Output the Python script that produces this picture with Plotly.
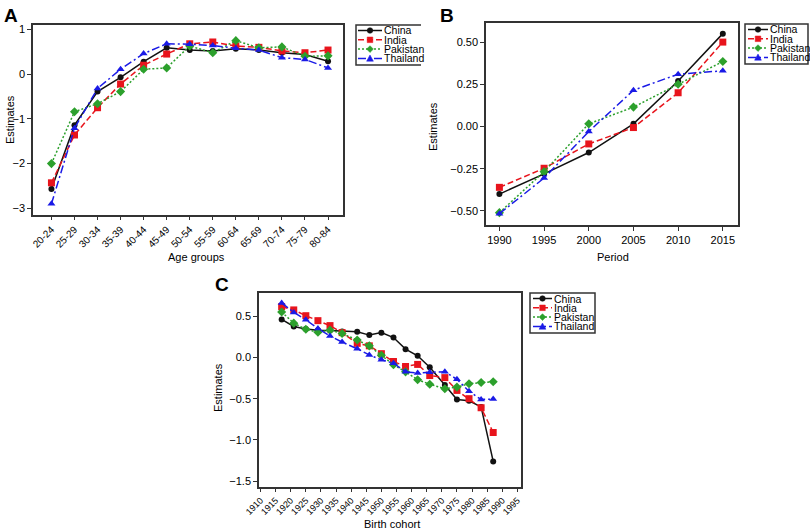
import plotly.graph_objects as go

# panel A - age effects
age_groups = ["20-24", "25-29", "30-34", "35-39", "40-44", "45-49", "50-54",
              "55-59", "60-64", "65-69", "70-74", "75-79", "80-84"]
age_china = [-2.57, -1.14, -0.39, -0.07, 0.28, 0.59, 0.54, 0.52, 0.57, 0.54, 0.48, 0.44, 0.29]
age_india = [-2.43, -1.36, -0.75, -0.22, 0.20, 0.45, 0.68, 0.72, 0.63, 0.60, 0.52, 0.48, 0.54]
age_pakistan = [-2.00, -0.84, -0.66, -0.39, 0.11, 0.14, 0.63, 0.48, 0.75, 0.59, 0.61, 0.40, 0.41]
age_thailand = [-2.90, -1.21, -0.32, 0.11, 0.46, 0.68, 0.67, 0.64, 0.58, 0.54, 0.37, 0.33, 0.14]

# panel B - period effects
periods = [1990, 1995, 2000, 2005, 2010, 2015]
per_china = [-0.40, -0.28, -0.154, 0.016, 0.27, 0.55]
per_india = [-0.36, -0.247, -0.103, -0.006, 0.20, 0.50]
per_pakistan = [-0.51, -0.267, 0.016, 0.115, 0.25, 0.385]
per_thailand = [-0.516, -0.305, -0.03, 0.215, 0.31, 0.33]

# panel C - cohort effects
cohorts = [1917, 1921, 1925, 1929, 1933, 1937, 1942, 1946, 1950,
           1954, 1958, 1962, 1966, 1971, 1975, 1979, 1983, 1987]
coh_china = [0.46, 0.375, 0.345, 0.33, 0.325, 0.315, 0.31, 0.27, 0.30,
             0.24, 0.10, 0.02, -0.12, -0.335, -0.51, -0.525, -0.60, -1.26]
coh_india = [0.615, 0.575, 0.505, 0.445, 0.385, 0.30, 0.17, 0.14, 0.045,
             -0.05, -0.11, -0.085, -0.22, -0.245, -0.40, -0.50, -0.61, -0.91]
coh_pakistan = [0.55, 0.415, 0.34, 0.305, 0.33, 0.29, 0.21, 0.14, 0.025,
                -0.09, -0.175, -0.27, -0.325, -0.38, -0.36, -0.32, -0.305, -0.295]
coh_thailand = [0.66, 0.545, 0.455, 0.35, 0.26, 0.185, 0.105, 0.03, -0.03,
                -0.07, -0.175, -0.19, -0.18, -0.175, -0.265, -0.41, -0.51, -0.505]

countries = ["China", "India", "Pakistan", "Thailand"]
colors = ["#111111", "#e8141c", "#2ca02c", "#1a1ae6"]
symbols = ["circle", "square", "diamond", "triangle-up"]
dashes = ["solid", "6px,3px", "2px,2px", "8px,3px,2px,3px"]
sizes = [6, 7, 7, 7]

panels = [
    (age_groups, [age_china, age_india, age_pakistan, age_thailand], "x", "y"),
    (periods, [per_china, per_india, per_pakistan, per_thailand], "x2", "y2"),
    (cohorts, [coh_china, coh_india, coh_pakistan, coh_thailand], "x3", "y3"),
]

fig = go.Figure()
for xs, series, xa, ya in panels:
    for i, name in enumerate(countries):
        fig.add_trace(go.Scatter(
            x=xs, y=series[i], name=name, mode="lines+markers",
            xaxis=xa, yaxis=ya, showlegend=False,
            line=dict(color=colors[i], width=1.5, dash=dashes[i]),
            marker=dict(symbol=symbols[i], size=sizes[i], color=colors[i]),
        ))

W, H = 810, 532
def px(v): return v / W
def py(v): return 1 - v / H

axis_common = dict(showline=True, linecolor="#333333", linewidth=1.5, mirror=True,
                   ticks="outside", ticklen=4, tickcolor="#333333", showgrid=False,
                   zeroline=False, automargin=False, tickfont=dict(size=11, color="black"))

fig.update_layout(
    template="none",
    width=W, height=H, margin=dict(l=0, r=0, t=0, b=0),
    paper_bgcolor="white", plot_bgcolor="white", showlegend=False,
    font=dict(family="Liberation Sans, Arial, sans-serif", color="black"),
    xaxis=dict(axis_common, domain=[px(33), px(343)], anchor="y", type="category",
               range=[-0.8, 12.65], tickangle=-45, tickfont=dict(size=10, color="black"),
               ticklen=3),
    yaxis=dict(axis_common, domain=[py(215), py(25)], anchor="x", range=[-3.15, 1.1],
               tickvals=[-3, -2, -1, 0, 1]),
    xaxis2=dict(axis_common, domain=[px(486), px(738)], anchor="y2", range=[1988.5, 2016.7],
                tickvals=periods),
    yaxis2=dict(axis_common, domain=[py(225), py(23)], anchor="x2", range=[-0.583, 0.613],
                tickvals=[-0.5, -0.25, 0, 0.25, 0.5], tickformat=".2f"),
    xaxis3=dict(axis_common, domain=[px(259), px(521)], anchor="y3", range=[1909.5, 1996.2],
                tick0=1910, dtick=5, tickangle=-45, tickfont=dict(size=9, color="black"),
                ticklen=3),
    yaxis3=dict(axis_common, domain=[py(487), py(293)], anchor="x3", range=[-1.57, 0.78],
                tickvals=[-1.5, -1.0, -0.5, 0, 0.5], tickformat=".1f"),
)

# axis titles
titles = [("Estimates", 10, 120, -90), ("Age groups", 196, 257, 0),
          ("Estimates", 433, 127, -90), ("Period", 613, 257, 0),
          ("Estimates", 218, 388, -90), ("Birth cohort", 392, 524, 0)]
for text, x, y, ang in titles:
    fig.add_annotation(text=text, xref="paper", yref="paper", x=px(x), y=py(y),
                       xanchor="center", yanchor="middle", textangle=ang,
                       showarrow=False, font=dict(size=11, color="black"))

# panel letters
for label, x, y in [("A", 2, 3), ("B", 438, 3), ("C", 213, 272)]:
    fig.add_annotation(text="<b>%s</b>" % label, xref="paper", yref="paper",
                       x=px(x), y=py(y), xanchor="left", yanchor="top",
                       showarrow=False, font=dict(size=19, color="black"))


# compact boxed legends like the original figure
def marker_shape(sym, cx, cy, color, r=2.8):
    base = dict(xref="paper", yref="paper", fillcolor=color, line=dict(color=color, width=0.5))
    if sym == "circle":
        fig.add_shape(type="circle", x0=px(cx - r), x1=px(cx + r), y0=py(cy + r), y1=py(cy - r), **base)
    elif sym == "square":
        fig.add_shape(type="rect", x0=px(cx - r), x1=px(cx + r), y0=py(cy + r), y1=py(cy - r), **base)
    else:
        if sym == "diamond":
            pts = [(cx, cy - r - 0.6), (cx + r + 0.6, cy), (cx, cy + r + 0.6), (cx - r - 0.6, cy)]
        else:
            pts = [(cx, cy - r - 0.6), (cx + r + 0.6, cy + r), (cx - r - 0.6, cy + r)]
        path = "M " + " L ".join("%.5f,%.5f" % (px(a), py(b)) for a, b in pts) + " Z"
        fig.add_shape(type="path", path=path, **base)


def add_legend(x0, x1, y0, y1, sx0, sx1, tx, rows, open_right=False):
    if open_right:
        path = "M %.5f,%.5f L %.5f,%.5f L %.5f,%.5f L %.5f,%.5f" % (
            px(x1), py(y0), px(x0), py(y0), px(x0), py(y1), px(x1), py(y1))
        fig.add_shape(type="path", path=path, xref="paper", yref="paper",
                      fillcolor="white", line=dict(color="#333333", width=1.5))
    else:
        fig.add_shape(type="rect", xref="paper", yref="paper", x0=px(x0), x1=px(x1),
                      y0=py(y1), y1=py(y0), fillcolor="white",
                      line=dict(color="#333333", width=1.5))
    for i, name in enumerate(countries):
        yy = rows[i]
        fig.add_shape(type="line", xref="paper", yref="paper", x0=px(sx0), x1=px(sx1),
                      y0=py(yy), y1=py(yy),
                      line=dict(color=colors[i], width=1.5, dash=dashes[i]))
        marker_shape(symbols[i], (sx0 + sx1) / 2, yy, colors[i])
        fig.add_annotation(text=name, xref="paper", yref="paper", x=px(tx), y=py(yy),
                           xanchor="left", yanchor="middle", showarrow=False,
                           font=dict(size=10.5, color="black"))


add_legend(356, 421, 25, 65, 358, 382, 382, [30.5, 39.8, 49.1, 58.4], open_right=True)
add_legend(745, 808, 24, 64, 748, 768, 768, [29.5, 38.8, 48.1, 57.4])
add_legend(530, 595, 293, 333, 533, 552, 552, [298.5, 307.8, 317.1, 326.4])

fig.write_html("out.html", config={"displayModeBar": False},
               post_script="document.body.style.margin='0px';")
